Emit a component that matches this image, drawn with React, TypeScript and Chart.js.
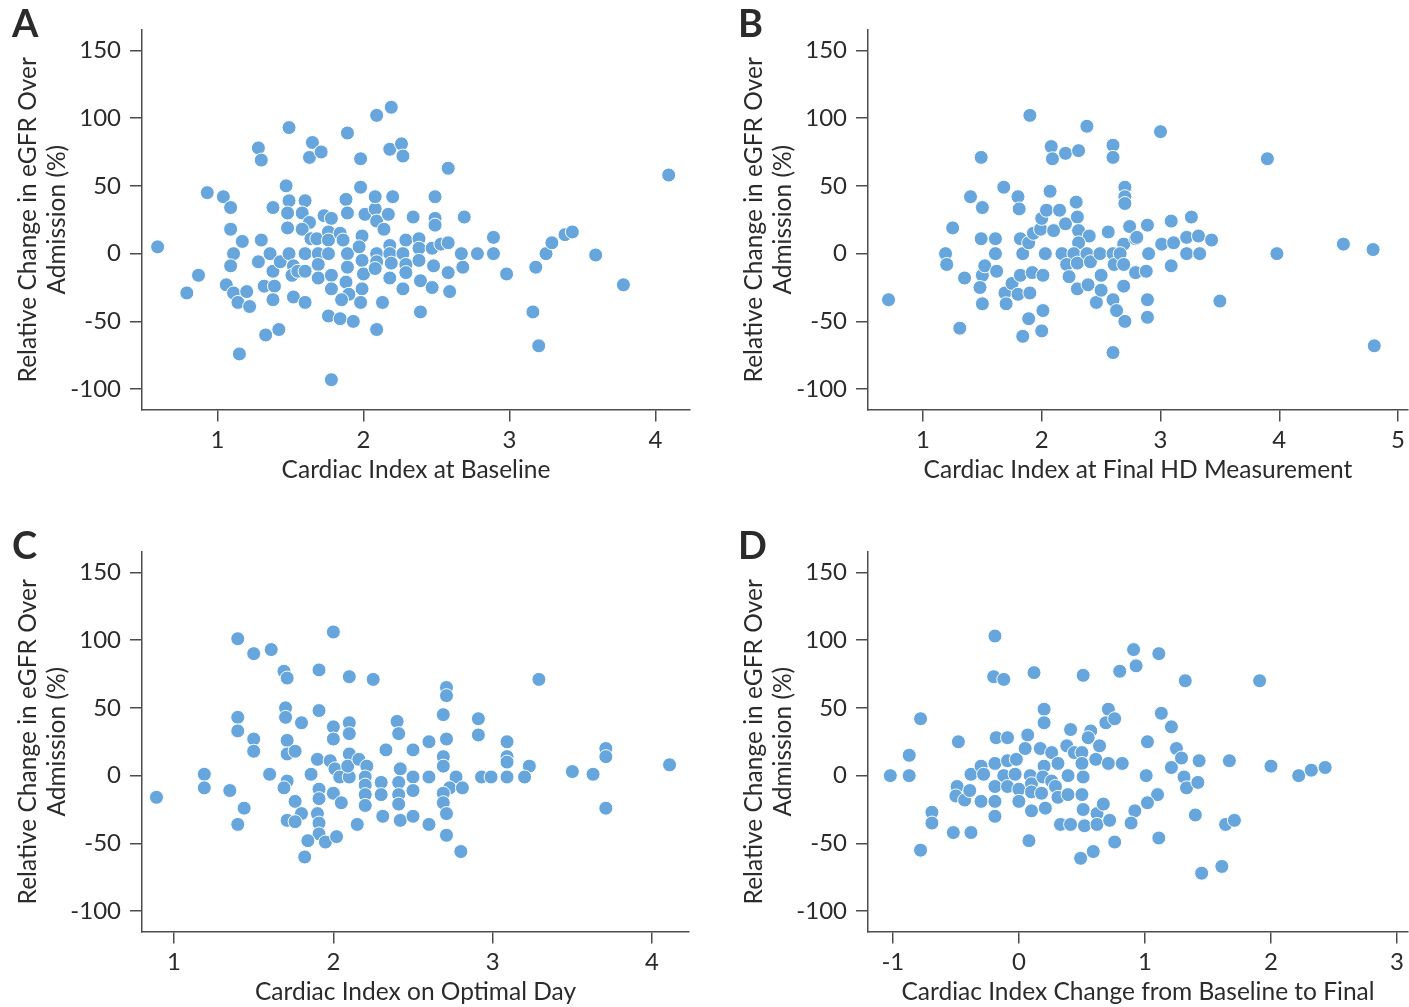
import React, { useEffect, useRef } from "react";
import { Chart, registerables } from "chart.js";

Chart.register(...registerables);

const FONT_FAMILY = "Lato, 'Noto Sans', sans-serif";
const TEXT_COLOR = "#2b2b2b";
const AXIS_COLOR = "#4d4d4d";
const DOT_COLOR = "#66a6dd";

// Shared y axis: relative change in eGFR over admission (%)
const yTickValues = [-100, -50, 0, 50, 100, 150];
const yAxisTitle = ["Relative Change in eGFR Over", "Admission (%)"];

// A: cardiac index at baseline vs eGFR change
const baselineTicks = [1, 2, 3, 4];
const baselinePoints: [number, number][] = [
  [0.59, 5], [0.79, -29], [0.87, -16], [0.93, 45], [1.04, 42], [1.09, 34], [1.09, 18], [1.17, 9],
  [1.11, 0], [1.09, -9], [1.06, -23], [1.11, -29], [1.14, -36], [1.2, -28], [1.22, -39], [1.15, -74],
  [1.28, 78], [1.3, 69], [1.3, 10], [1.28, -6], [1.32, -24], [1.33, -60], [1.38, 34], [1.36, 0],
  [1.38, -13], [1.39, -24], [1.38, -34], [1.42, -56], [1.43, -6], [1.49, 93], [1.47, 50], [1.49, 39],
  [1.48, 30], [1.48, 19], [1.49, 0], [1.52, -9], [1.51, -16], [1.52, -32], [1.55, -13], [1.6, 39],
  [1.58, 30], [1.63, 23], [1.58, 18], [1.6, 0], [1.6, -13], [1.6, -36], [1.65, 82], [1.63, 71],
  [1.71, 75], [1.64, 11], [1.68, 11], [1.69, 0], [1.69, -8], [1.69, -18], [1.73, 28], [1.78, 26],
  [1.76, 16], [1.76, 10], [1.76, 0], [1.78, -16], [1.78, -26], [1.76, -46], [1.84, -48], [1.93, -50],
  [1.78, -93], [1.84, 15], [1.86, 10], [1.89, 89], [1.88, 40], [1.89, 30], [1.89, 0], [1.89, -10],
  [1.88, -21], [1.9, -30], [1.85, -34], [1.98, 70], [1.98, 49], [1.99, 13], [1.97, 5], [1.99, -5],
  [2.0, -15], [1.99, -26], [1.98, -36], [2.01, 29], [2.08, 33], [2.08, 42], [2.09, 24], [2.09, 102],
  [2.19, 108], [2.18, 77], [2.26, 81], [2.27, 72], [2.2, 42], [2.17, 29], [2.14, 18], [2.09, 0],
  [2.09, -6], [2.08, -11], [2.18, 6], [2.18, 0], [2.19, -7], [2.18, -18], [2.13, -36], [2.09, -56],
  [2.29, 10], [2.27, 0], [2.29, -8], [2.29, -14], [2.27, -26], [2.34, 27], [2.38, 11], [2.38, 4],
  [2.38, -5], [2.39, -20], [2.39, -43], [2.58, 63], [2.49, 42], [2.49, 26], [2.49, 21], [2.69, 27],
  [2.47, 4], [2.53, 7], [2.58, 8], [2.48, -9], [2.58, -14], [2.68, -10], [2.67, 0], [2.78, 0],
  [2.89, 0], [2.89, 12], [2.98, -15], [2.47, -25], [2.59, -28], [3.18, -10], [3.25, 0], [3.29, 8],
  [3.38, 14], [3.43, 16], [3.59, -1], [3.78, -23], [4.09, 58], [3.16, -43], [3.2, -68],
];

// B: cardiac index at final HD measurement vs eGFR change
const finalTicks = [1, 2, 3, 4, 5];
const finalPoints: [number, number][] = [
  [0.71, -34], [1.19, 0], [1.2, -8], [1.25, 19], [1.31, -55], [1.35, -18], [1.4, 42], [1.49, 71],
  [1.5, 34], [1.49, 11], [1.5, -16], [1.52, -9], [1.48, -25], [1.5, -37], [1.61, 11], [1.61, 0],
  [1.62, -13], [1.68, 49], [1.69, -29], [1.7, -37], [1.75, -22], [1.8, 42], [1.81, 33], [1.8, -30],
  [1.82, 11], [1.84, 0], [1.84, -61], [1.89, -48], [1.9, 102], [1.82, -16], [1.9, -29], [1.89, 8],
  [1.93, 15], [1.92, -14], [1.99, 18], [2.01, -42], [2.0, -57], [2.01, -16], [2.03, 0], [2.0, 26],
  [2.04, 32], [2.07, 46], [2.08, 79], [2.09, 70], [2.2, 74], [2.31, 76], [2.38, 94], [2.6, 80],
  [2.6, 71], [2.1, 17], [2.15, 32], [2.2, 22], [2.29, 38], [2.3, 27], [2.31, 17], [2.4, 13],
  [2.31, 8], [2.17, 0], [2.27, 0], [2.21, -8], [2.3, -7], [2.23, -17], [2.3, -26], [2.39, -23],
  [2.38, 0], [2.41, -6], [2.49, 0], [2.5, -16], [2.46, -36], [2.5, -27], [2.56, 16], [2.6, 0],
  [2.61, -8], [2.6, -34], [2.63, -42], [2.7, -50], [2.6, -73], [2.69, -24], [2.7, 49], [2.7, 42],
  [2.7, 37], [2.74, 20], [2.69, 7], [2.66, 0], [2.69, -8], [2.79, 11], [2.79, -14], [3.0, 90],
  [3.9, 70], [2.89, 21], [3.09, 24], [3.26, 27], [2.8, 12], [3.01, 7], [3.11, 8], [3.22, 12],
  [3.32, 13], [3.43, 10], [2.9, 0], [3.22, 0], [3.33, 0], [3.09, -9], [2.88, -13], [2.89, -34],
  [2.89, -47], [3.5, -35], [3.98, 0], [4.54, 7], [4.79, 3], [4.8, -68],
];

// C: cardiac index on optimal day vs eGFR change
const optimalTicks = [1, 2, 3, 4];
const optimalPoints: [number, number][] = [
  [0.89, -16], [1.19, 1], [1.19, -9], [1.35, -11], [1.4, 101], [1.4, 43], [1.4, 33], [1.44, -24],
  [1.4, -36], [1.5, 90], [1.61, 93], [1.5, 27], [1.5, 18], [1.6, 1], [1.69, 77], [1.71, 72],
  [1.7, 50], [1.7, 43], [1.71, 26], [1.71, 16], [1.76, 18], [1.71, -4], [1.69, -9], [1.8, 39],
  [1.76, -19], [1.8, -28], [1.71, -33], [1.76, -34], [1.91, 78], [2.0, 106], [2.1, 73], [2.25, 71],
  [1.91, 48], [2.0, 36], [2.0, 27], [2.1, 39], [2.1, 31], [1.9, 12], [1.86, 1], [1.98, 11],
  [2.01, 5], [2.04, -1], [2.1, 16], [2.1, -1], [2.09, 7], [2.16, 12], [2.21, 7], [1.91, -10],
  [1.91, -17], [2.0, -13], [2.05, -20], [1.9, -28], [1.91, -35], [1.91, -43], [1.84, -48], [1.95, -49],
  [2.02, -45], [1.82, -60], [2.15, -36], [2.2, -1], [2.2, -7], [2.2, -14], [2.2, -22], [2.3, -5],
  [2.3, -14], [2.31, -30], [2.33, 19], [2.4, 40], [2.41, 31], [2.42, 5], [2.41, -5], [2.41, -14],
  [2.41, -21], [2.42, -33], [2.5, 19], [2.5, -1], [2.5, -11], [2.5, -30], [2.6, 25], [2.71, 65],
  [2.71, 59], [2.69, 45], [2.71, 27], [2.69, 14], [2.69, 7], [2.91, 42], [2.91, 30], [3.09, 25],
  [3.09, 14], [3.09, 10], [3.23, 7], [3.29, 71], [2.6, -1], [2.77, -1], [2.73, -9], [2.81, -9],
  [2.93, -1], [2.99, -1], [3.09, -1], [3.2, -1], [2.69, -13], [2.69, -20], [2.71, -28], [2.6, -36],
  [2.71, -44], [2.8, -56], [3.5, 3], [3.63, 1], [3.71, 20], [3.71, 14], [3.71, -24], [4.11, 8],
];

// D: change in cardiac index from baseline to final vs eGFR change
const changeTicks = [-1, 0, 1, 2, 3];
const changePoints: [number, number][] = [
  [-1.02, 0], [-0.87, 0], [-0.87, 15], [-0.78, 42], [-0.78, -55], [-0.69, -27], [-0.69, -35], [-0.52, -42],
  [-0.48, 25], [-0.49, -8], [-0.5, -15], [-0.43, -18], [-0.39, -11], [-0.38, -42], [-0.38, 1], [-0.3, 7],
  [-0.28, 1], [-0.3, -19], [-0.19, 103], [-0.2, 73], [-0.12, 71], [-0.18, 28], [-0.09, 28], [-0.19, 9],
  [-0.12, 0], [-0.19, -8], [-0.19, -19], [-0.19, -30], [-0.09, 11], [-0.09, -8], [-0.02, 12], [-0.03, 1],
  [0.0, -10], [0.0, -19], [0.07, 30], [0.05, 20], [0.08, -48], [0.12, 76], [0.09, 0], [0.1, -6],
  [0.1, -12], [0.1, -26], [0.2, 49], [0.2, 39], [0.17, 20], [0.2, 7], [0.19, -1], [0.18, -13],
  [0.21, -24], [0.26, 17], [0.26, -4], [0.31, 9], [0.29, -8], [0.31, -16], [0.33, -36], [0.41, -36],
  [0.39, -14], [0.39, 0], [0.38, 22], [0.41, 34], [0.51, 74], [0.44, 17], [0.5, 17], [0.5, 9],
  [0.51, -1], [0.5, -14], [0.51, -25], [0.52, -37], [0.49, -61], [0.59, -56], [0.57, 33], [0.55, 28],
  [0.64, 22], [0.61, 12], [0.62, -28], [0.62, -36], [0.67, -21], [0.72, -33], [0.71, 9], [0.71, 49],
  [0.69, 39], [0.76, 42], [0.82, 9], [0.76, -49], [0.8, 77], [0.91, 93], [0.93, 81], [0.92, -26],
  [0.89, -35], [1.11, 90], [1.32, 70], [1.91, 70], [1.13, 46], [1.21, 36], [1.02, 25], [1.25, 20],
  [1.29, 13], [1.21, 6], [1.43, 11], [1.67, 11], [2.0, 7], [2.22, 0], [2.32, 4], [2.43, 6],
  [1.01, 0], [1.31, -1], [1.33, -9], [1.42, -5], [1.1, -14], [1.02, -20], [1.4, -29], [1.64, -36],
  [1.71, -33], [1.11, -46], [1.45, -72], [1.61, -67],
];

type PanelSpec = {
  letter: string;
  left: number;
  top: number;
  width: number;
  plotRight: number;
  xMin: number;
  xMax: number;
  xTicks: number[];
  xTitle: string;
  points: [number, number][];
};

const CANVAS_HEIGHT = 485;
const PLOT_LEFT = 142;
const PLOT_TOP = 30;
const PLOT_BOTTOM = 409.5;

const panels: PanelSpec[] = [
  { letter: "A", left: 0, top: 0, width: 700, plotRight: 690, xMin: 0.483, xMax: 4.236, xTicks: baselineTicks, xTitle: "Cardiac Index at Baseline", points: baselinePoints },
  { letter: "B", left: 726, top: 0, width: 683, plotRight: 682, xMin: 0.537, xMax: 5.084, xTicks: finalTicks, xTitle: "Cardiac Index at Final HD Measurement", points: finalPoints },
  { letter: "C", left: 0, top: 522, width: 700, plotRight: 689, xMin: 0.799, xMax: 4.232, xTicks: optimalTicks, xTitle: "Cardiac Index on Optimal Day", points: optimalPoints },
  { letter: "D", left: 726, top: 522, width: 683, plotRight: 682, xMin: -1.197, xMax: 3.087, xTicks: changeTicks, xTitle: "Cardiac Index Change from Baseline to Final", points: changePoints },
];

const tickFont = { family: FONT_FAMILY, size: 24 };
const titleFont = { family: FONT_FAMILY, size: 24.5 };

function ScatterPanel({ spec }: { spec: PanelSpec }) {
  const canvasRef = useRef<HTMLCanvasElement>(null);

  useEffect(() => {
    const canvas = canvasRef.current;
    if (!canvas) return;
    const chart = new Chart(canvas, {
      type: "scatter",
      data: {
        datasets: [
          {
            data: spec.points.map(([x, y]) => ({ x, y })),
            backgroundColor: DOT_COLOR,
            borderColor: "#ffffff",
            borderWidth: 1,
            pointRadius: 7,
            pointHoverRadius: 7,
          },
        ],
      },
      options: {
        animation: false,
        responsive: false,
        maintainAspectRatio: false,
        events: [],
        layout: {
          autoPadding: false,
          padding: { left: 0, top: PLOT_TOP, right: spec.width - spec.plotRight, bottom: 0 },
        },
        plugins: {
          legend: { display: false },
          tooltip: { enabled: false },
        },
        scales: {
          x: {
            type: "linear",
            position: "bottom",
            min: spec.xMin,
            max: spec.xMax,
            afterBuildTicks: (scale: any) => {
              scale.ticks = spec.xTicks.map((value) => ({ value }));
            },
            afterFit: (scale: any) => {
              scale.height = CANVAS_HEIGHT - PLOT_BOTTOM;
              scale.paddingLeft = 0;
              scale.paddingRight = 0;
            },
            grid: {
              drawOnChartArea: false,
              drawTicks: true,
              tickLength: 12,
              color: AXIS_COLOR,
              lineWidth: 1.5,
            },
            border: { display: true, color: AXIS_COLOR, width: 1.5 },
            ticks: {
              color: TEXT_COLOR,
              font: tickFont,
              padding: 4,
              maxRotation: 0,
              autoSkip: false,
              callback: (value: any) => String(value),
            },
            title: {
              display: true,
              text: spec.xTitle,
              color: TEXT_COLOR,
              font: titleFont,
              padding: { top: 0, bottom: 0 },
            },
          },
          y: {
            type: "linear",
            position: "left",
            min: -115,
            max: 165,
            afterBuildTicks: (scale: any) => {
              scale.ticks = yTickValues.map((value) => ({ value }));
            },
            afterFit: (scale: any) => {
              scale.width = PLOT_LEFT;
              scale.paddingTop = 0;
              scale.paddingBottom = 0;
            },
            grid: {
              drawOnChartArea: false,
              drawTicks: true,
              tickLength: 12,
              color: AXIS_COLOR,
              lineWidth: 1.5,
            },
            border: { display: true, color: AXIS_COLOR, width: 1.5 },
            ticks: {
              color: TEXT_COLOR,
              font: tickFont,
              padding: 9,
              autoSkip: false,
              callback: (value: any) => String(value),
            },
            title: {
              display: true,
              text: yAxisTitle,
              color: TEXT_COLOR,
              font: titleFont,
              padding: { top: 13, bottom: 0 },
            },
          },
        },
      },
    });
    return () => chart.destroy();
  }, [spec]);

  return (
    <>
      <canvas
        ref={canvasRef}
        width={spec.width}
        height={CANVAS_HEIGHT}
        style={{ position: "absolute", left: spec.left, top: spec.top, width: spec.width, height: CANVAS_HEIGHT }}
      />
      <div
        style={{
          position: "absolute",
          left: spec.left + 12,
          top: spec.top + 3,
          font: `bold 38px ${FONT_FAMILY}`,
          lineHeight: "38px",
          color: TEXT_COLOR,
        }}
      >
        {spec.letter}
      </div>
    </>
  );
}

export default function App() {
  return (
    <div
      style={{
        position: "absolute",
        left: 0,
        top: 0,
        width: 1409,
        height: 1007,
        overflow: "hidden",
        background: "#ffffff",
      }}
    >
      {panels.map((p) => (
        <ScatterPanel key={p.letter} spec={p} />
      ))}
    </div>
  );
}
